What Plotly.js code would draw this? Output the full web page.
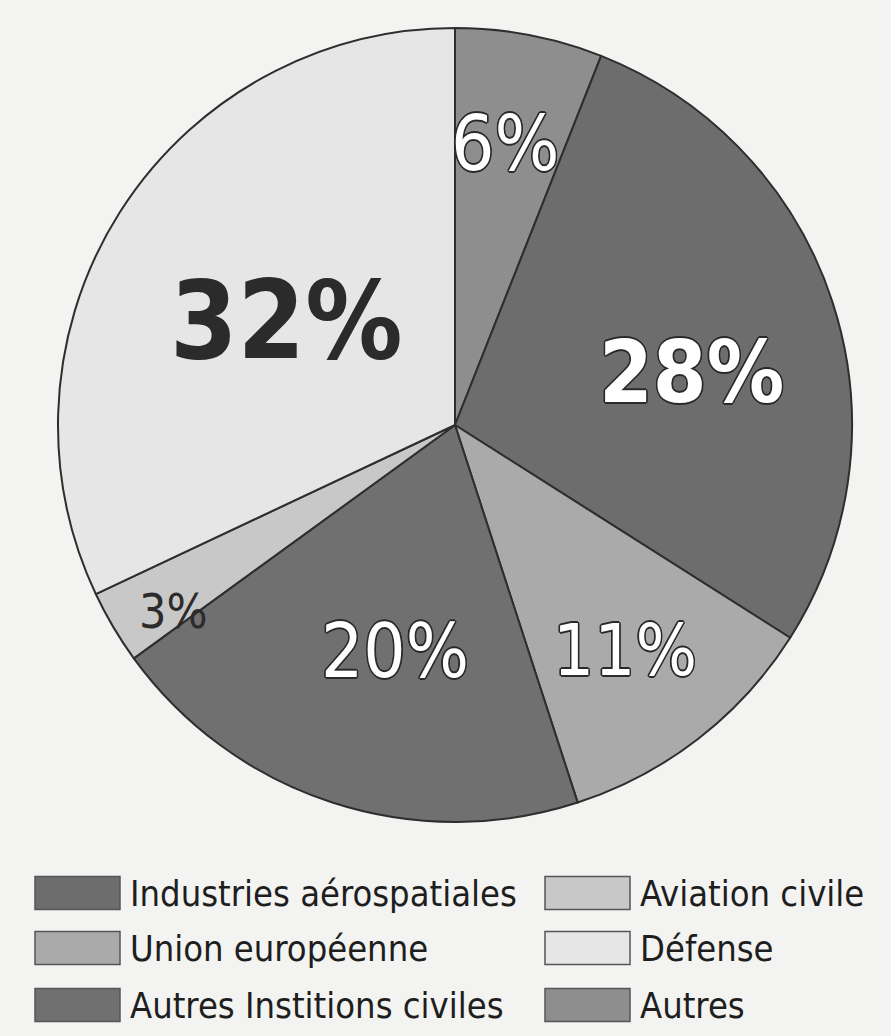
<!DOCTYPE html>
<html>
<head>
<meta charset="utf-8">
<script src="https://cdn.plot.ly/plotly-3.0.1.min.js"></script>
<style>html,body{margin:0;padding:0;background:#f3f3f1;}#chart{width:891px;height:1036px;}</style>
</head>
<body>
<div id="chart"></div>
<script>
// ---- data ----
const labels = ['Autres', 'Industries aérospatiales', 'Union européenne', 'Autres Institions civiles', 'Aviation civile', 'Défense'];
const values = [6, 28, 11, 20, 3, 32];
const colors = ['#8e8e8e', '#6d6d6d', '#aaaaaa', '#707070', '#c8c8c8', '#e6e6e6'];
const legendOrder = ['Industries aérospatiales', 'Union européenne', 'Autres Institions civiles', 'Aviation civile', 'Défense', 'Autres'];

// ---- label styling (per slice) ----
const labelRadius = [0.72, 0.61, 0.71, 0.59, 0.85, 0.50];
const labelAngleShift = [-0.7, 5.3, 0.7, -3.1, -2.9, -0.7];
const labelSize = [76, 86, 72, 74, 48, 108];
const labelBold = [false, true, false, false, false, true];
const labelLight = [true, true, true, true, false, false];

const W = 891, H = 1036;
const FONT = '"DejaVu Sans Condensed", "DejaVu Sans", sans-serif';
// pie domain in pixels
const pie = {x0: 58, x1: 852, y0: 28, y1: 822};
const cx = (pie.x0 + pie.x1) / 2, cy = (pie.y0 + pie.y1) / 2;
const R = Math.min(pie.x1 - pie.x0, pie.y1 - pie.y0) / 2;
const px2x = p => p / W, py2y = p => 1 - p / H;

const total = values.reduce((a, b) => a + b, 0);
const annotations = [];
let cum = 0;
const oc = '#2a2a2a';
const outline = [[-1.2,-1.2],[1.2,-1.2],[-1.2,1.2],[1.2,1.2],[0,1.6],[0,-1.6],[1.6,0],[-1.6,0]]
  .map(d => d[0] + 'px ' + d[1] + 'px 0 ' + oc).join(', ');
values.forEach((v, i) => {
  const a = ((cum + v / 2) / total * 360 + labelAngleShift[i]) * Math.PI / 180;
  cum += v;
  const x = cx + labelRadius[i] * R * Math.sin(a);
  const y = cy - labelRadius[i] * R * Math.cos(a);
  annotations.push({
    x: px2x(x), y: py2y(y), xref: 'paper', yref: 'paper',
    xanchor: 'center', yanchor: 'middle', showarrow: false,
    text: Math.round(v / total * 100) + '%',
    font: {family: FONT, size: labelSize[i], weight: labelBold[i] ? 'bold' : 'normal',
           color: labelLight[i] ? '#ffffff' : '#2b2b2b',
           shadow: labelLight[i] ? outline : 'none'}
  });
});

// ---- custom legend (two columns, three rows) ----
const shapes = [];
const colX = [35, 545], swW = 85, swH = 33, rowY = [893, 948, 1005], textGap = 8;
legendOrder.forEach((lab, k) => {
  const col = Math.floor(k / 3), row = k % 3;
  const c = colors[labels.indexOf(lab)];
  const x0 = colX[col], yc = rowY[row];
  shapes.push({type: 'rect', xref: 'paper', yref: 'paper',
    x0: px2x(x0), x1: px2x(x0 + swW), y0: py2y(yc + swH / 2), y1: py2y(yc - swH / 2),
    fillcolor: c, line: {color: '#555555', width: 1.5}});
  annotations.push({x: px2x(x0 + swW + textGap), y: py2y(yc), xref: 'paper', yref: 'paper',
    xanchor: 'left', yanchor: 'middle', showarrow: false, text: lab,
    font: {family: FONT, size: 36, color: '#1e1e1e'}});
});

const trace = {
  type: 'pie', labels: labels, values: values, sort: false, direction: 'clockwise', rotation: 0,
  marker: {colors: colors, line: {color: '#2e2e2e', width: 2}},
  textinfo: 'none', hoverinfo: 'label+percent', showlegend: false,
  domain: {x: [px2x(pie.x0), px2x(pie.x1)], y: [py2y(pie.y1), py2y(pie.y0)]}
};

const layout = {
  width: W, height: H, margin: {l: 0, r: 0, t: 0, b: 0},
  paper_bgcolor: '#f3f3f1', plot_bgcolor: '#f3f3f1', showlegend: false,
  annotations: annotations, shapes: shapes
};
Plotly.newPlot('chart', [trace], layout, {displayModeBar: false, staticPlot: true});
</script>
</body>
</html>
